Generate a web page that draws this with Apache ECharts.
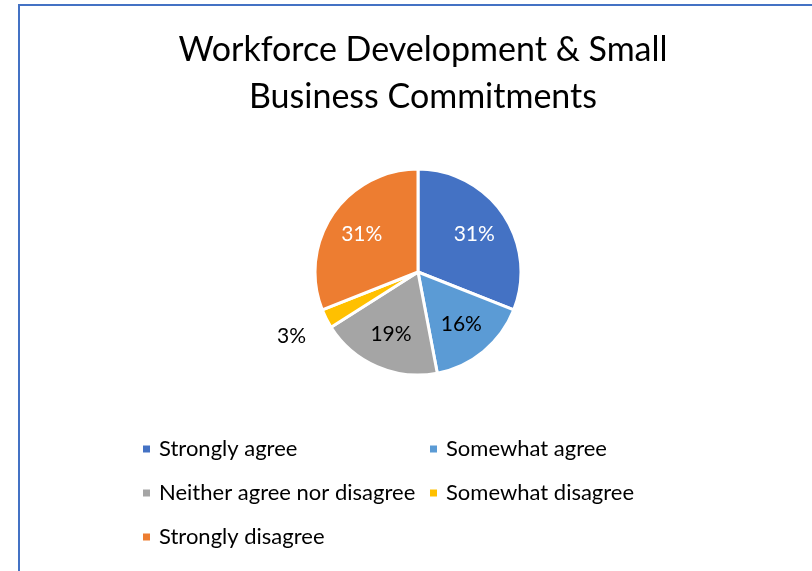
<!DOCTYPE html>
<html>
<head>
<meta charset="utf-8">
<script src="https://cdn.jsdelivr.net/npm/echarts@6/dist/echarts.min.js"></script>
<style>
  html, body { margin: 0; padding: 0; background: #ffffff; }
  #chart { width: 812px; height: 571px; }
</style>
</head>
<body>
<div id="chart"></div>
<script>
// Survey responses (percent of respondents)
const categories = [
  'Strongly agree',
  'Somewhat agree',
  'Neither agree nor disagree',
  'Somewhat disagree',
  'Strongly disagree'
];
const shares = [31, 16, 19, 3, 31];

const sliceColors = ['#4472C4', '#5B9BD5', '#A5A5A5', '#FFC000', '#ED7D31'];
const labelColors = ['#ffffff', '#000000', '#000000', '#000000', '#ffffff'];

const leftLegendItems = [categories[0], categories[2], categories[4]];
const rightLegendItems = [categories[1], categories[3]];

const FONT = 'Lato, "Open Sans", sans-serif';
const CX = 418, CY = 272, R = 103;

// Mid-angle of every slice, measured clockwise from 12 o'clock
const total = shares.reduce((a, b) => a + b, 0);
const midAngles = [];
let acc = 0;
shares.forEach(v => { midAngles.push((acc + v / 2) / total * 2 * Math.PI); acc += v; });

const chart = echarts.init(document.getElementById('chart'), null, { renderer: 'canvas' });

const legendBase = {
  orient: 'vertical',
  icon: 'rect',
  padding: 0,
  itemWidth: 9,
  itemHeight: 9,
  itemGap: 22,
  selectedMode: false,
  textStyle: { fontFamily: FONT, fontSize: 22, color: '#000', lineHeight: 22, padding: [0, 0, 0, 3] }
};

chart.setOption({
  animation: false,
  backgroundColor: '#ffffff',
  color: sliceColors,
  title: {
    text: 'Workforce Development & Small\nBusiness Commitments',
    left: CX,
    textAlign: 'center',
    top: 22,
    textStyle: { fontFamily: FONT, fontSize: 34, fontWeight: 'normal', color: '#000', lineHeight: 47 }
  },
  graphic: [{
    type: 'rect',
    shape: { x: 19, y: 5, width: 900, height: 700 },
    style: { fill: 'none', stroke: '#4472C4', lineWidth: 2 },
    silent: true
  }],
  legend: [
    Object.assign({ left: 141, top: 438, data: leftLegendItems }, legendBase),
    Object.assign({ left: 428, top: 438, data: rightLegendItems }, legendBase)
  ],
  series: [{
    type: 'pie',
    center: [CX, CY],
    radius: [0, R],
    startAngle: 90,
    clockwise: true,
    avoidLabelOverlap: false,
    itemStyle: { borderColor: '#ffffff', borderWidth: 3 },
    emphasis: { disabled: true },
    label: {
      show: true,
      position: 'inside',
      fontFamily: FONT,
      fontSize: 21,
      formatter: p => p.value + '%'
    },
    labelLine: { show: false },
    // small slices carry their label outside the pie, the rest inside
    labelLayout: p => {
      const a = midAngles[p.dataIndex];
      const d = shares[p.dataIndex] / total < 0.05 ? 142 : 68;
      return { x: CX + d * Math.sin(a), y: CY - d * Math.cos(a), align: 'center', verticalAlign: 'middle' };
    },
    data: categories.map((name, i) => ({
      name: name,
      value: shares[i],
      label: { color: labelColors[i] }
    }))
  }]
});
</script>
</body>
</html>
